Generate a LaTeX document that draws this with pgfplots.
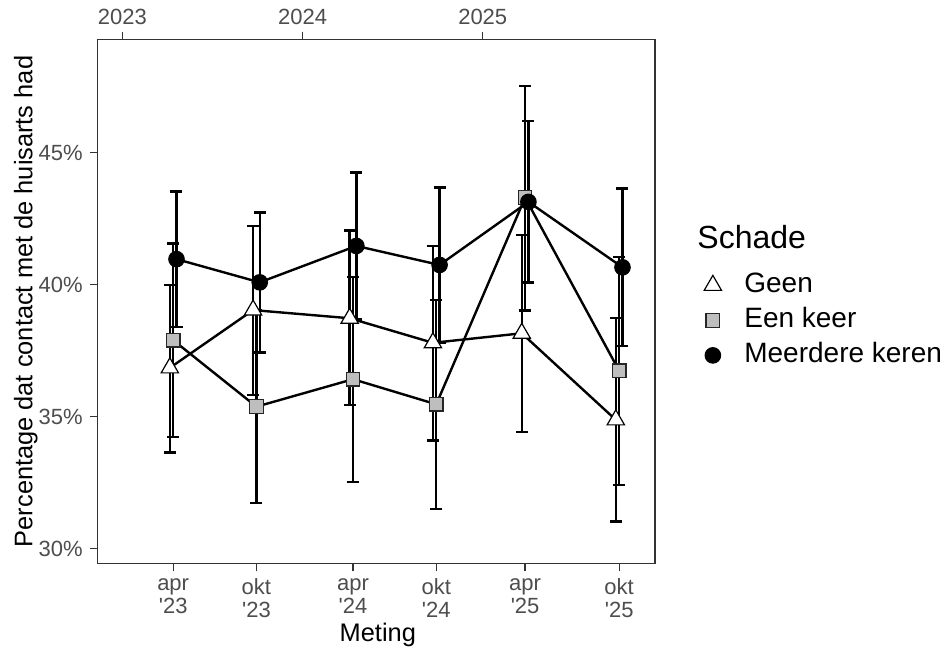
\documentclass[border=0pt]{standalone}
\usepackage{pgfplots}
\pgfplotsset{compat=1.18}
\usepackage{pgfplotstable}
\usepackage{fontspec}
\setmainfont{Liberation Sans}
\definecolor{tickgray}{RGB}{77,77,77}
\definecolor{framegray}{RGB}{51,51,51}
\definecolor{sqfill}{RGB}{190,190,190}

\pgfplotstableread{
x y lo hi
2023.2635 36.85 33.65 40.00
2023.7255 39.04 35.82 42.22
2024.2615 38.73 35.44 42.05
2024.7235 37.80 34.10 41.47
2025.2165 38.16 34.43 41.88
2025.7385 34.88 31.03 38.73
}\geen

\pgfplotstableread{
x y lo hi
2023.2820 37.90 34.22 41.57
2023.7440 35.38 31.72 39.04
2024.2800 36.42 32.53 40.30
2024.7420 35.47 31.50 39.42
2025.2350 43.30 39.02 47.53
2025.7570 36.74 32.41 41.06
}\eenkeer

\pgfplotstableread{
x y lo hi
2023.3005 40.97 38.41 43.54
2023.7625 40.09 37.44 42.73
2024.2985 41.47 38.68 44.26
2024.7605 40.75 37.81 43.69
2025.2535 43.14 40.09 46.20
2025.7755 40.66 37.68 43.65
}\meerdere

\pgfplotsset{
  errline/.style={black, line width=1.2pt, mark=none, forget plot,
    error bars/.cd, y dir=both, y explicit, error mark=|,
    error bar style={line width=1.2pt, black, solid},
    error mark options={black, line width=1.2pt, mark size=3pt}},
}

\begin{document}
\begin{tikzpicture}
\useasboundingbox (-48.65pt,-42.15pt) rectangle (423.85pt,281.85pt);
\begin{axis}[
  at={(0pt,0pt)}, anchor=south west,
  scale only axis, width=278.85pt, height=262.2pt,
  xmin=2022.861, xmax=2025.956, ymin=29.43, ymax=49.3,
  axis line style={framegray, line width=0.6pt},
  xtick pos=left, ytick pos=left, tick align=outside,
  major tick length=3.8pt,
  tick style={framegray, line width=0.6pt},
  xtick={2023.282,2023.744,2024.280,2024.742,2025.235,2025.757},
  xticklabels={{apr\\\textquotesingle{}23},{okt\\\textquotesingle{}23},{apr\\\textquotesingle{}24},{okt\\\textquotesingle{}24},{apr\\\textquotesingle{}25},{okt\\\textquotesingle{}25}},
  ytick={30,35,40,45}, yticklabels={30\%,35\%,40\%,45\%},
  ticklabel style={font=\fontsize{11}{11.5}\selectfont, text=tickgray},
  xticklabel style={align=center},
  xlabel={Meting}, ylabel={Percentage dat contact met de huisarts had},
  every axis x label/.style={at={(axis description cs:0.503,-0.135)}, anchor=center, font=\fontsize{12.7}{14}\selectfont},
  every axis y label/.style={at={(axis description cs:-0.128,0.5)}, anchor=center, rotate=90, font=\fontsize{12.7}{14}\selectfont},
  legend cell align=left,
  legend style={at={(axis description cs:1.0875,0.5601)}, anchor=north west, draw=none, fill=none, inner sep=0pt,
    font=\fontsize{14}{16}\selectfont, row sep=3.5pt, column sep=0pt,
    nodes={inner sep=0pt, text height=11pt, text depth=3pt},
    /tikz/every odd column/.append style={column sep=11.4pt}},
  legend image code/.code={\draw[#1, only marks] plot coordinates {(0pt,-0.5pt)};},
]
\addplot[errline] table[x=x, y=y, y error plus expr=\thisrow{hi}-\thisrow{y}, y error minus expr=\thisrow{y}-\thisrow{lo}] {\geen};
\addplot[errline] table[x=x, y=y, y error plus expr=\thisrow{hi}-\thisrow{y}, y error minus expr=\thisrow{y}-\thisrow{lo}] {\eenkeer};
\addplot[errline] table[x=x, y=y, y error plus expr=\thisrow{hi}-\thisrow{y}, y error minus expr=\thisrow{y}-\thisrow{lo}] {\meerdere};

\addplot[only marks, mark=triangle*, mark size=5pt, mark options={fill=white, draw=black, line width=0.6pt, solid}] table[x=x, y=y] {\geen};
\addlegendentry{Geen}
\addplot[only marks, mark=square*, mark size=3.4pt, mark options={fill=sqfill, draw=black!85, line width=0.6pt, solid}] table[x=x, y=y] {\eenkeer};
\addlegendentry{Een keer}
\addplot[only marks, mark=*, mark size=3.9pt, mark options={fill=black, draw=black, line width=0.5pt, solid}] table[x=x, y=y] {\meerdere};
\addlegendentry{Meerdere keren}
\end{axis}

\begin{axis}[
  at={(0pt,0pt)}, anchor=south west,
  scale only axis, width=278.85pt, height=262.2pt,
  xmin=2022.861, xmax=2025.956, ymin=0, ymax=1,
  hide y axis, axis x line*=top,
  axis line style={framegray, line width=0.6pt},
  xtick={2023,2024,2025}, xticklabels={2023,2024,2025},
  xtick align=outside, major tick length=3.8pt,
  tick style={framegray, line width=0.6pt},
  ticklabel style={font=\fontsize{11}{11.5}\selectfont, text=tickgray},
]
\end{axis}

\node[anchor=west, inner sep=0pt, font=\fontsize{16}{18}\selectfont] at (299.85pt,163.35pt) {Schade};
\end{tikzpicture}
\end{document}
